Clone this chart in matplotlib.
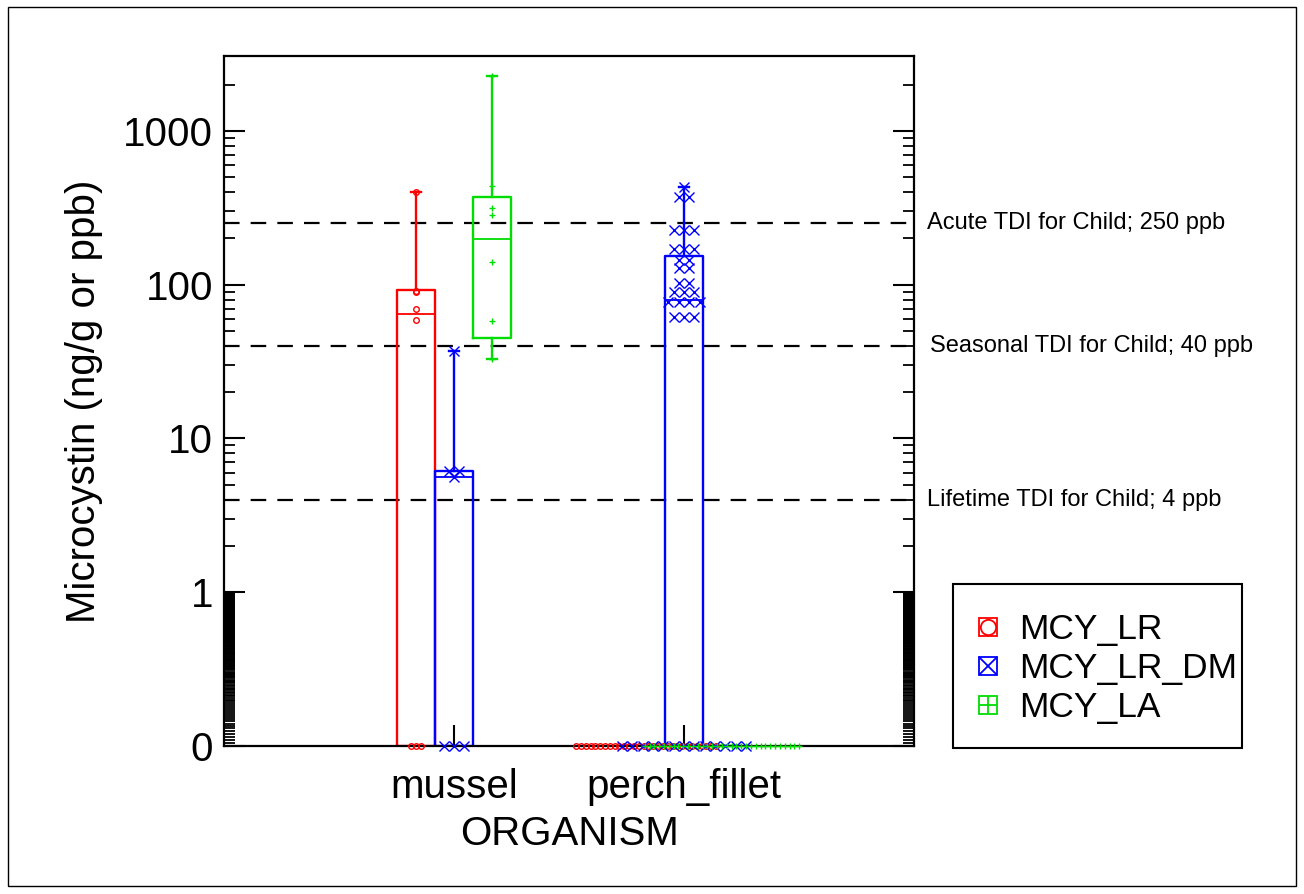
import numpy as np
import matplotlib
matplotlib.use("Agg")
import matplotlib.pyplot as plt
from matplotlib.lines import Line2D
from matplotlib.patches import Rectangle
from matplotlib.ticker import FixedLocator, FixedFormatter, NullFormatter
from matplotlib.legend_handler import HandlerTuple

plt.rcParams["font.family"] = ["Liberation Sans", "DejaVu Sans"]

# ---------------- DATI ----------------
organismi = ["mussel", "perch_fillet"]
serie = ["MCY_LR", "MCY_LR_DM", "MCY_LA"]
colori = ["#ff0000", "#0000ff", "#00dd00"]
simboli = ["o", "x", "+"]

# campioni (ng/g), 0 = non rilevato
mussel_lr = [0, 0, 0, 59, 70, 90, 91, 400]
mussel_lr_dm = [0, 0, 0, 5.6, 6.1, 6.1, 37]
mussel_la = [33, 58, 141, 285, 316, 440, 2275]
perch_lr = [0] * 30
perch_lr_dm = ([0] * 13 + [62] * 3 + [77.5] * 4 + [89] * 3 + [103] * 2
               + [128] * 2 + [145] * 2 + [171] * 3 + [227] * 3 + [373] * 2 + [433])
perch_la = [0] * 33

campioni = [[mussel_lr, mussel_lr_dm, mussel_la],
            [perch_lr, perch_lr_dm, perch_la]]

# statistiche dei box
box_q1 = [[0, 0, 45], [0, 0, 0]]
box_med = [[64.5, 5.6, 199], [0, 80, 0]]
box_q3 = [[92, 6.1, 373], [0, 154, 0]]
box_lo = [[0, 0, 33], [0, 0, 0]]
box_hi = [[400, 37, 2275], [0, 433, 0]]

# soglie TDI
soglie = [250, 40, 4]
soglie_testo = ["Acute TDI for Child; 250 ppb",
                "Seasonal TDI for Child; 40 ppb",
                "Lifetime TDI for Child; 4 ppb"]
soglie_x = [1.019, 1.023, 1.019]

ZERO = 0.1  # posizione dello "0" sull'asse log
offset = [-0.165, 0.0, 0.165]
larghezza = 0.165
passo = [0.021, 0.045, 0.021]
msize = [4, 7, 5]


def z(v):
    v = np.asarray(v, float)
    return np.where(v <= 0, ZERO, v)


def sparpaglia(valori, centro, dx):
    v = np.asarray(valori, float)
    x = np.empty_like(v)
    for u in np.unique(v):
        idx = np.where(v == u)[0]
        n = len(idx)
        x[idx] = centro + (np.arange(n) - (n - 1) / 2) * dx
    return x


# ---------------- FIGURA ----------------
W, H = 1304, 894
fig = plt.figure(figsize=(W / 100, H / 100), dpi=100)
ax = fig.add_axes([224 / W, 148 / H, 690 / W, 690 / H])
ax.set_yscale("log")

for yv in soglie:
    ax.axhline(yv, color="black", ls=(0, (7, 5)), lw=1.6, zorder=1)
for yv, t, xt in zip(soglie, soglie_testo, soglie_x):
    ax.text(xt, yv, t, transform=ax.get_yaxis_transform(), fontsize=17,
            va="center", ha="left", clip_on=False)

for i, org in enumerate(organismi):
    for j in range(3):
        pos = i + 1 + offset[j]
        st = [dict(q1=z(box_q1[i][j]), med=z(box_med[i][j]), q3=z(box_q3[i][j]),
                   whislo=z(box_lo[i][j]), whishi=z(box_hi[i][j]), fliers=[])]
        c = colori[j]
        ax.bxp(st, positions=[pos], widths=larghezza, capwidths=0.045,
               showfliers=False, manage_ticks=False,
               boxprops=dict(color=c, lw=1.7), medianprops=dict(color=c, lw=1.3),
               whiskerprops=dict(color=c, lw=1.7), capprops=dict(color=c, lw=1.7))
        v = campioni[i][j]
        xs = sparpaglia(v, pos, passo[j])
        ax.plot(xs, z(v), ls="none", marker=simboli[j], ms=msize[j], mfc="none",
                mec=c, mew=1.0, clip_on=False, zorder=3)

ax.set_xlim(0, 3)
ax.set_ylim(ZERO, 3070)

ax.set_xticks([1, 2])
ax.set_xticklabels(organismi)
ax.tick_params(axis="x", direction="in", length=15, width=1.5, top=False,
               labelsize=29, pad=16)

ax.yaxis.set_major_locator(FixedLocator([0.1, 1, 10, 100, 1000]))
ax.yaxis.set_major_formatter(FixedFormatter(["0", "1", "10", "100", "1000"]))
minori = list(np.arange(0.105, 0.9999, 0.005))
for k in range(4):
    for m in range(2, 10):
        if m * 10 ** k < 2500:
            minori.append(m * 10 ** k)
ax.yaxis.set_minor_locator(FixedLocator(minori))
ax.yaxis.set_minor_formatter(NullFormatter())
ax.tick_params(axis="y", which="major", direction="in", length=15, width=1.5,
               left=True, right=True, labelsize=29, pad=8)
ax.tick_params(axis="y", which="minor", direction="in", length=8, width=1.3,
               left=True, right=True)

for s in ax.spines.values():
    s.set_linewidth(1.6)

ax.set_xlabel("ORGANISM", fontsize=29, labelpad=6)
ax.set_ylabel("Microcystin (ng/g or ppb)", fontsize=29, labelpad=14)

# ---------------- LEGENDA ----------------
maniglie = []
for c, s in zip(colori, simboli):
    quadro = Line2D([], [], ls="none", marker="s", ms=13, mfc="none", mec=c, mew=1.3)
    dentro = Line2D([], [], ls="none", marker=s, ms=13 if s != "o" else 11,
                    mfc="none", mec=c, mew=1.3)
    maniglie.append((quadro, dentro))
fig.legend(maniglie, serie, loc="upper left",
           bbox_to_anchor=(979 / W, 1 - 613 / H), bbox_transform=fig.transFigure,
           frameon=False, borderpad=0, borderaxespad=0, handlelength=0.5,
           handletextpad=0.64, labelspacing=0.17, fontsize=25.5,
           handler_map={tuple: HandlerTuple(ndivide=1)})
fig.patches.append(Rectangle((953 / W, 1 - 748 / H), 289 / W, 164 / H,
                             transform=fig.transFigure, fill=False,
                             ec="black", lw=1.5))

# cornice esterna
fig.patches.append(Rectangle((8 / W, 8 / H), 1288 / W, 879 / H,
                             transform=fig.transFigure, fill=False,
                             ec="black", lw=1.0))

fig.savefig("out.png", dpi=100)
